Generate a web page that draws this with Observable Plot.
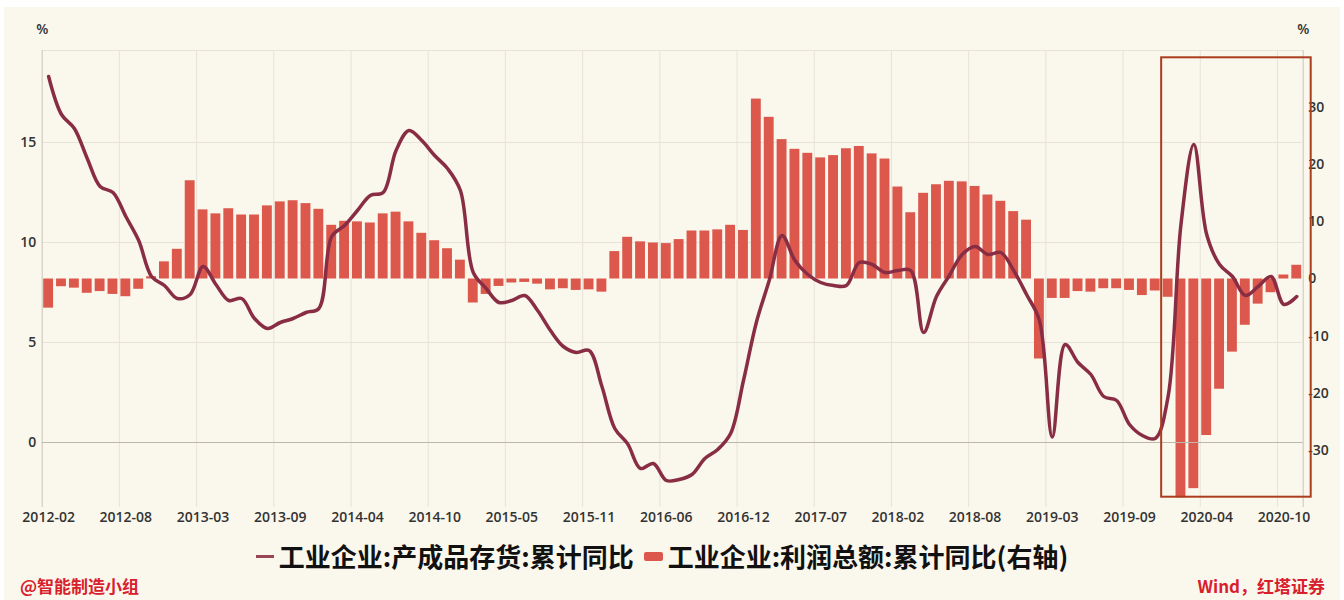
<!DOCTYPE html>
<html>
<head>
<meta charset="utf-8">
<script src="https://cdn.jsdelivr.net/npm/d3@7"></script>
<script src="https://cdn.jsdelivr.net/npm/@observablehq/plot@0.6"></script>
<style>
  html, body { margin: 0; padding: 0; background: #ffffff; }
  #wrap { position: absolute; left: 4px; top: 7px; width: 1336px; height: 593px; background: #faf7ec; overflow: hidden;
          font-family: "Open Sans", "Noto Sans CJK SC", sans-serif; }
  #chart { position: absolute; left: 0; top: 0; }
  #legend { position: absolute; left: 0; top: 533px; width: 1316px; height: 32px; display: flex; justify-content: center; align-items: center;
            font-family: "Noto Sans CJK SC", sans-serif; font-weight: 700; font-size: 26px; color: #111; line-height: 32px; white-space: nowrap; }
  .sw-line { display: inline-block; width: 18px; height: 3px; background: #9a4556; margin-right: 5px; }
  .sw-rect { display: inline-block; width: 19px; height: 9px; border-radius: 2px; background: #dc584c; margin: 0 5px 0 10px; }
  .foot { position: absolute; top: 569px; font-family: "Noto Sans CJK SC", sans-serif; font-weight: 700; font-size: 17px; color: #d8202c; line-height: 20px; white-space: nowrap; }
  #foot-left { left: 16px; }
  #foot-right { right: 15px; }
</style>
</head>
<body>
<div id="wrap">
  <div id="chart"></div>
  <div id="legend"><span class="sw-line"></span><span>工业企业:产成品存货:累计同比</span><span class="sw-rect"></span><span>工业企业:利润总额:累计同比(右轴)</span></div>
  <div class="foot" id="foot-left">@智能制造小组</div>
  <div class="foot" id="foot-right">Wind，红塔证券</div>
</div>
<script>
// Categories (monthly, January merged into Jan-Feb cumulative figures)
const months = (
  "2012-02 2012-03 2012-04 2012-05 2012-06 2012-07 2012-08 2012-09 2012-10 2012-11 2012-12 " +
  "2013-02 2013-03 2013-04 2013-05 2013-06 2013-07 2013-08 2013-09 2013-10 2013-11 2013-12 " +
  "2014-02 2014-03 2014-04 2014-05 2014-06 2014-07 2014-08 2014-09 2014-10 2014-11 2014-12 " +
  "2015-02 2015-03 2015-04 2015-05 2015-06 2015-07 2015-08 2015-09 2015-10 2015-11 2015-12 " +
  "2016-02 2016-03 2016-04 2016-05 2016-06 2016-07 2016-08 2016-09 2016-10 2016-11 2016-12 " +
  "2017-02 2017-03 2017-04 2017-05 2017-06 2017-07 2017-08 2017-09 2017-10 2017-11 2017-12 " +
  "2018-02 2018-03 2018-04 2018-05 2018-06 2018-07 2018-08 2018-09 2018-10 2018-11 2018-12 " +
  "2019-02 2019-03 2019-04 2019-05 2019-06 2019-07 2019-08 2019-09 2019-10 2019-11 2019-12 " +
  "2020-02 2020-03 2020-04 2020-05 2020-06 2020-07 2020-08 2020-09 2020-10 2020-11"
).split(" ");

// 工业企业:产成品存货:累计同比 (left axis, %)
const inventory = [
  18.3, 16.4, 15.7, 14.2, 12.8, 12.5, 11.3, 10.1, 8.3, 7.85, 7.2,
  7.4, 8.8, 7.9, 7.1, 7.2, 6.2, 5.7, 6.0, 6.2, 6.5, 6.7,
  10.3, 10.85, 11.6, 12.35, 12.5, 14.6, 15.6, 15.1, 14.35, 13.7, 12.6,
  8.5, 7.7, 7.0, 7.1, 7.35, 6.6, 5.6, 4.8, 4.5, 4.6, 2.8,
  0.7, -0.07, -1.3, -1.05, -1.9, -1.85, -1.6, -0.8, -0.35, 0.45, 3.1,
  6.0, 8.1, 10.35, 9.1, 8.4, 8.0, 7.85, 7.85, 9.0, 8.9, 8.5,
  8.6, 8.6, 5.5, 7.3, 8.35, 9.4, 9.8, 9.4, 9.5, 8.6, 7.4,
  6.1, 0.27, 4.9, 4.0, 3.4, 2.3, 2.1, 0.9, 0.35, 0.2, 2.3,
  10.9, 14.9, 10.4, 8.9, 8.3, 7.35, 7.8, 8.3, 6.9, 7.3
];

// 工业企业:利润总额:累计同比 (right axis, %)
const profit = [
  -5.1, -1.35, -1.6, -2.5, -2.2, -2.7, -3.1, -1.8, 0.4, 3.0, 5.2,
  17.2, 12.1, 11.4, 12.3, 11.2, 11.2, 12.8, 13.5, 13.7, 13.2, 12.2,
  9.4, 10.1, 10.0, 9.8, 11.4, 11.7, 10.0, 8.0, 6.7, 5.3, 3.3,
  -4.2, -2.7, -1.3, -0.7, -0.6, -0.9, -1.9, -1.7, -2.0, -1.9, -2.3,
  4.8, 7.3, 6.5, 6.3, 6.2, 6.9, 8.4, 8.4, 8.6, 9.4, 8.5,
  31.5, 28.3, 24.4, 22.7, 22.0, 21.2, 21.6, 22.8, 23.2, 21.9, 21.0,
  16.1, 11.6, 15.0, 16.5, 17.1, 17.0, 16.2, 14.7, 13.6, 11.8, 10.3,
  -14.0, -3.4, -3.4, -2.2, -2.3, -1.7, -1.7, -2.0, -2.9, -2.1, -3.2,
  -38.3, -36.7, -27.4, -19.3, -12.8, -8.1, -4.4, -2.4, 0.7, 2.4
];

// Tick labels
const xTickLabels = ["2012-02","2012-08","2013-03","2013-09","2014-04","2014-10","2015-05","2015-11",
  "2016-06","2016-12","2017-07","2018-02","2018-08","2019-03","2019-09","2020-04","2020-10"];
const leftTicks = [0, 5, 10, 15];
const rightTicks = [-30, -20, -10, 0, 10, 20, 30];
const leftDomain = [-3.25, 19.6];
const rightDomain = [-40, 40];

// Highlighted period
const highlight = [{from: "2019-12", to: "2020-11"}];

const toLeft = d3.scaleLinear(rightDomain, leftDomain);
const data = months.map((m, i) => ({i, m, inv: inventory[i], prof: profit[i]}));
const tickIdx = xTickLabels.map(t => months.indexOf(t));

const chart = Plot.plot({
  width: 1336,
  height: 530,
  marginTop: 43,
  marginBottom: 30,
  marginLeft: 37.7,
  marginRight: 37.3,
  style: {background: "transparent", fontFamily: "'Open Sans', 'Noto Sans CJK SC', sans-serif", fontSize: "14px", fontWeight: "600", color: "#333"},
  x: {type: "linear", domain: [-0.5, months.length - 0.5]},
  y: {domain: leftDomain},
  marks: [
    Plot.ruleX(tickIdx.slice(1), {x: d => d - 0.5, stroke: "#e7e3d8", strokeWidth: 1}),
    Plot.ruleY(leftTicks.filter(t => t !== 0), {stroke: "#e7e3d8", strokeWidth: 1}),
    Plot.ruleY([leftDomain[1]], {stroke: "#e7e3d8", strokeWidth: 1}),
    Plot.rect(data, {
      x1: d => d.i - 0.5, x2: d => d.i + 0.5,
      y1: () => toLeft(0), y2: d => toLeft(d.prof),
      fill: "#dc584c", insetLeft: 1.5, insetRight: 1.5
    }),
    Plot.ruleY([0], {stroke: "#bdb8ad", strokeWidth: 1}),
    Plot.ruleX([-0.5, months.length - 0.5], {stroke: "#cbc6bb", strokeWidth: 1}),
    Plot.line(data, {x: "i", y: "inv", stroke: "#892d44", strokeWidth: 3.5, curve: "catmull-rom", strokeLinejoin: "round", strokeLinecap: "round"}),
    Plot.axisX(tickIdx, {tickSize: 0, tickPadding: 5, tickFormat: d => months[d], label: null, fill: "#333", fontSize: 14}),
    Plot.axisY(leftTicks, {tickSize: 0, tickPadding: 6, label: null, fill: "#333", fontSize: 14}),
    Plot.axisY(rightTicks.map(toLeft), {anchor: "right", tickSize: 0, tickPadding: 5, label: null, fill: "#333", fontSize: 14,
      tickFormat: d => String(Math.round(toLeft.invert(d)))}),
    Plot.text(["%"], {text: d => d, frameAnchor: "top-left", dy: -26, textAnchor: "middle", fill: "#333", fontSize: 14}),
    Plot.text(["%"], {text: d => d, frameAnchor: "top-right", dy: -26, textAnchor: "middle", fill: "#333", fontSize: 14}),
    Plot.rect(highlight, {
      x1: d => months.indexOf(d.from) - 0.5, x2: d => months.indexOf(d.to) + 0.5,
      fill: "none", stroke: "#ab3d1e", strokeWidth: 2,
      insetTop: 7.3, insetBottom: 10.3, insetRight: -8
    })
  ]
});
document.getElementById("chart").appendChild(chart);
</script>
</body>
</html>
